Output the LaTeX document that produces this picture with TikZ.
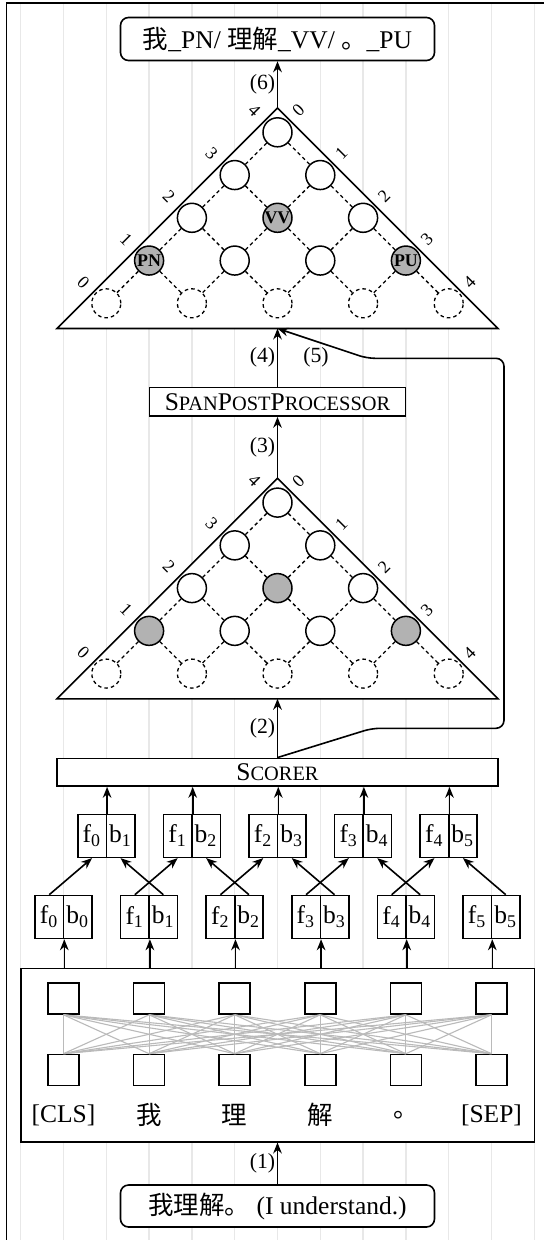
\documentclass[tikz,border=0pt]{standalone}
\usepackage{fontspec}
\setmainfont{Liberation Serif}
\newfontfamily\cjk{Noto Sans CJK SC}
\usetikzlibrary{arrows.meta,calc}
\newlength{\upx}\setlength{\upx}{0.3922pt}
\newcommand{\mysc}{\fontsize{8}{9}\selectfont}
\begin{document}
\begin{tikzpicture}[x=0.3922pt,y=-0.3922pt,
  ln/.style={line width=1.6\upx},
  arr/.style={line width=1.6\upx,-{Stealth[length=4.3pt,width=3.4pt]}},
  gridln/.style={line width=1.5\upx,draw=black!9},
  box/.style={draw,line width=1.6\upx,fill=white,inner sep=0pt},
  rbox/.style={box,rounded corners=8\upx,minimum width=314\upx,minimum height=43\upx},
  cell/.style={box,minimum width=28.5\upx,minimum height=43\upx},
  sq/.style={box,minimum size=31\upx},
  cnode/.style={circle,draw,line width=1.5\upx,fill=white,minimum size=29\upx,inner sep=0pt},
  dnode/.style={cnode,line width=1.3\upx,dash pattern=on 1.4pt off 1.2pt},
  dline/.style={line width=1.3\upx,dash pattern=on 1.4pt off 1.2pt},
  gline/.style={line width=1.1\upx,draw=black!27},
  lbl/.style={font=\fontsize{8.5}{10}\selectfont,inner sep=1.5\upx},
  axl/.style={font=\fontsize{7}{8}\selectfont,inner sep=0pt},
  tag/.style={font=\fontsize{7}{8}\selectfont\bfseries,inner sep=0pt},
]
\useasboundingbox (0,0) rectangle (544,1240);
% background grid and frame
\foreach \k in {0,...,12}{
  \draw[gridln] ({20.7+42.8*\k},3) -- ({20.7+42.8*\k},1240);
}
\draw[line width=1.8\upx] (6.5,1240) -- (6.5,3) -- (544,3);

% charts
\foreach \p/\ay in {A/108,B/478.3}{
  \draw[ln,fill=white] (277.5,\ay) coordinate (\p-apex) -- (57,{\ay+220.5}) coordinate (\p-bl) -- (498,{\ay+220.5}) coordinate (\p-br) -- cycle;
  \coordinate (\p-base) at (277.5,{\ay+220.5});
  \foreach \r in {0,...,3}{
    \foreach \i in {0,...,\r}{
      \pgfmathtruncatemacro\isg{((\r==3)&&((\i==0)||(\i==3)))||((\r==2)&&(\i==1))}
      \ifnum\isg=1 \def\cf{black!30}\else\def\cf{white}\fi
      \node[cnode,fill=\cf] (\p-\r-\i) at ({277.5+(2*\i-\r)*42.8},{\ay+24.3+\r*42.75}) {};
    }
  }
  \foreach \i in {0,...,4}{
    \node[dnode] (\p-4-\i) at ({277.5+(2*\i-4)*42.8},{\ay+24.3+4*42.75}) {};
  }
  \foreach \r in {0,...,3}{
    \pgfmathtruncatemacro\rn{\r+1}
    \foreach \i in {0,...,\r}{
      \pgfmathtruncatemacro\inn{\i+1}
      \draw[dline] (\p-\r-\i) -- (\p-\rn-\i);
      \draw[dline] (\p-\r-\i) -- (\p-\rn-\inn);
    }
  }
  \foreach \m in {0,...,4}{
    \pgfmathtruncatemacro\mm{4-\m}
    \node[axl,rotate=-45] (\p-L\m) at ({277.5-23-42.8*\m},{\ay+2.5+43*\m}) {\mm};
    \node[axl,rotate=45] (\p-R\m) at ({277.5+21+42.8*\m},{\ay+2.5+43*\m}) {\m};
  }
}
\node[tag] (A-PN) at (A-3-0) {PN};
\node[tag] (A-VV) at (A-2-1) {VV};
\node[tag] (A-PU) at (A-3-3) {PU};

% output box
\node[rbox] (out) at (277.5,39) {{\cjk 我}\_PN/ {\cjk 理解}\_VV/ {\cjk 。}\_PU};
\draw[arr] (A-apex) -- node[lbl,left]{(6)} (out.south);

% span post processor
\node[box,minimum width=256\upx,minimum height=28.7\upx] (spp) at (277.5,401.7) {S{\mysc PAN}P{\mysc OST}P{\mysc ROCESSOR}};
\draw[arr] (spp.north) -- node[lbl,left]{(4)} (A-base);
\draw[arr] (B-apex) -- node[lbl,left]{(3)} (spp.south);

% scorer
\node[box,minimum width=441\upx,minimum height=27.7\upx] (scorer) at (277.5,772.2) {S{\mysc CORER}};
\draw[arr] (scorer.north) -- node[lbl,left]{(2)} (B-base);
\draw[arr,rounded corners=8\upx] (scorer.north) -- (372,728.3) -- (504,728.3) -- (504,358.3) -- (367,358.3) -- (A-base);
\node[lbl] (l5) at (316,357) {(5)};

% lower pair boxes
\foreach \j in {0,...,5}{
  \pgfmathsetmacro\cx{63.5+85.6*\j}
  \node[cell] (lo\j-f) at ({\cx-14.25},917) {f\textsubscript{\j}};
  \node[cell] (lo\j-b) at ({\cx+14.25},917) {b\textsubscript{\j}};
}
% upper pair boxes
\foreach \j in {0,...,4}{
  \pgfmathsetmacro\cx{106.3+85.6*\j}
  \pgfmathtruncatemacro\jn{\j+1}
  \node[cell] (up\j-f) at ({\cx-14.25},835.8) {f\textsubscript{\j}};
  \node[cell] (up\j-b) at ({\cx+14.25},835.8) {b\textsubscript{\jn}};
  \draw[arr] (up\j-f.north east) -- (up\j-f.north east |- scorer.south);
  \draw[arr] (lo\j-f.north) -- (up\j-f.south);
  \draw[arr] (lo\jn-b.north) -- (up\j-b.south);
}

% encoder
\node[box,minimum width=513.6\upx,minimum height=173.4\upx] (enc) at (277.5,1055) {};
\foreach \j/\w in {0/{[CLS]},1/{\cjk 我},2/{\cjk 理},3/{\cjk 解},4/{\cjk 。},5/{[SEP]}}{
  \pgfmathsetmacro\cx{63.5+85.6*\j}
  \node[sq] (t\j) at (\cx,998.5) {};
  \node[sq] (s\j) at (\cx,1070) {};
  \node (w\j) at (\cx,1115) {\w};
  \draw[arr] (lo\j-f.south east |- enc.north) -- (lo\j-f.south east);
}
\foreach \a in {0,...,5}{
  \foreach \b in {0,...,5}{
    \draw[gline] (t\a.south) -- (s\b.north);
  }
}

% input
\node[rbox,minimum height=42\upx] (inp) at (277.5,1206) {{\cjk 我理解。} (I understand.)};
\draw[arr] (inp.north) -- node[lbl,left]{(1)} (enc.south);
\end{tikzpicture}
\end{document}
